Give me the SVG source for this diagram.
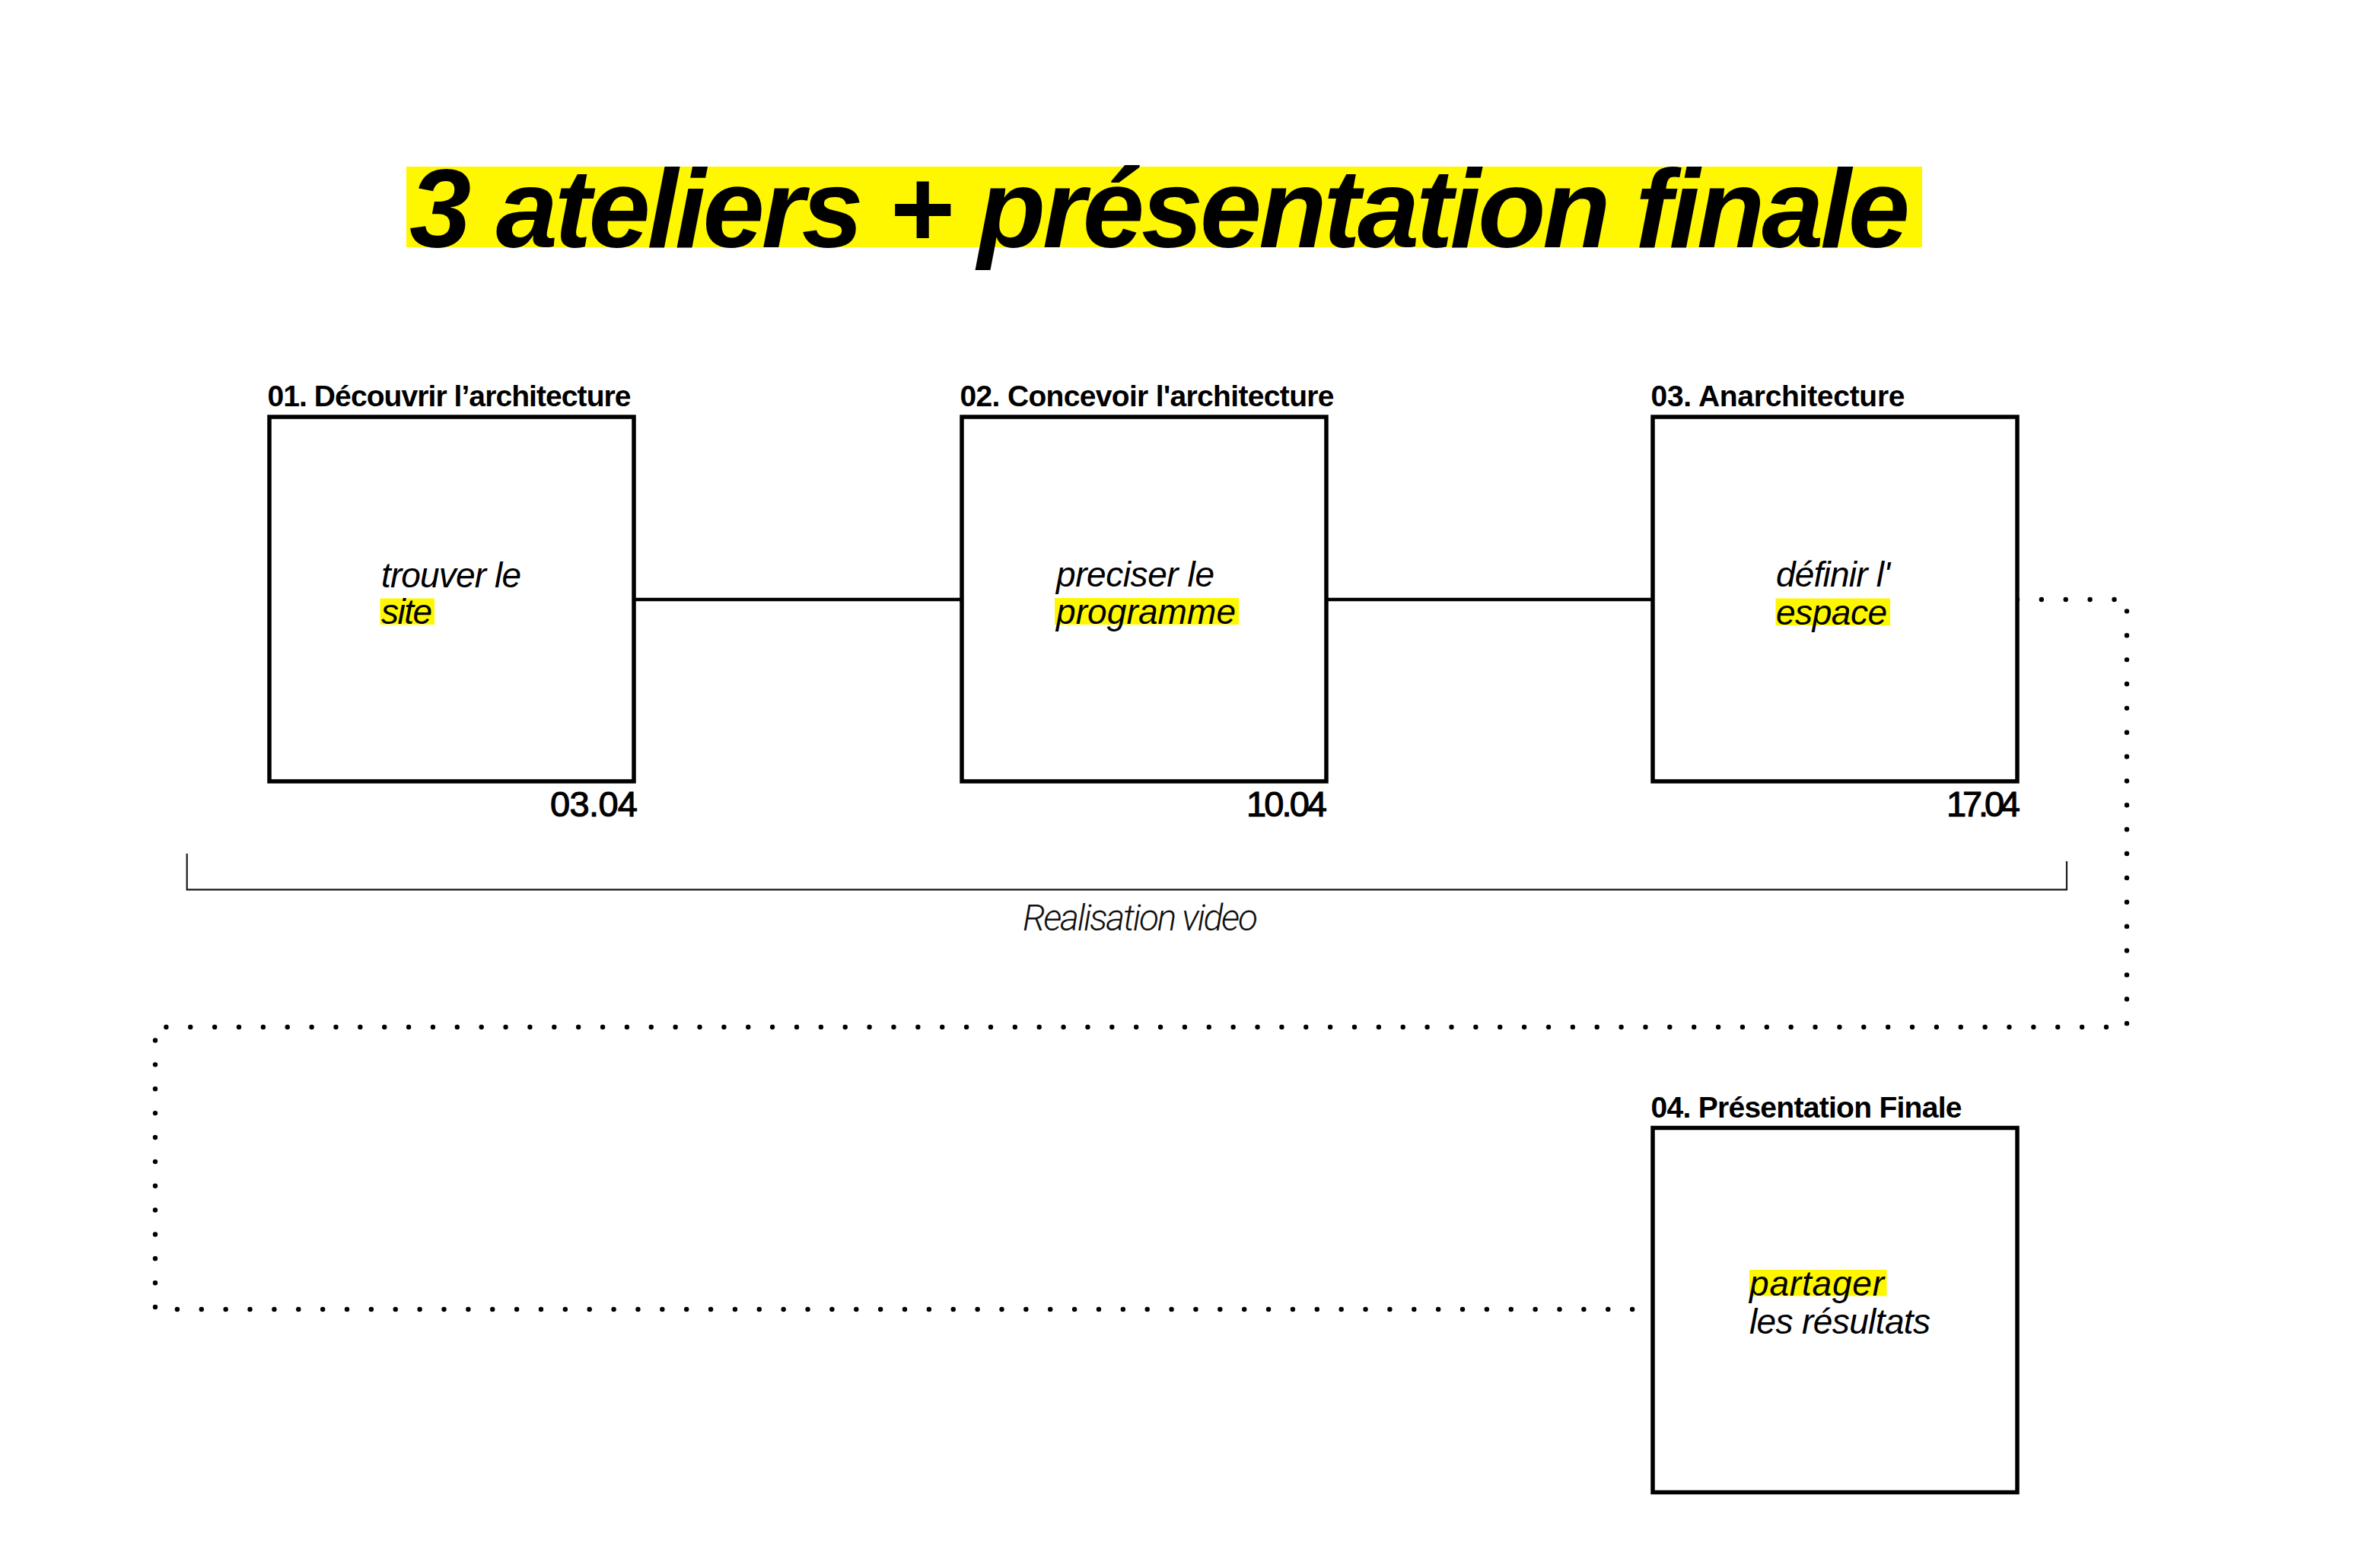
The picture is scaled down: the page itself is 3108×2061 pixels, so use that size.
<svg xmlns="http://www.w3.org/2000/svg" width="3108" height="2061" viewBox="0 0 3108 2061">
<style>
.bg{fill:#ffffff}
.hl{fill:#fff700}
.box{fill:#ffffff;stroke:#000;stroke-width:5.5}
.solid{fill:none;stroke:#000;stroke-width:4.5}
.dots{fill:none;stroke:#000;stroke-width:6.4;stroke-linecap:round;stroke-dasharray:0 31.87}
.bracket{fill:none;stroke:#1a1a1a;stroke-width:2.2}
.title{font-family:"Liberation Sans",Arial,sans-serif;font-weight:700;font-style:italic;font-size:146px;fill:#000}
.lbl{font-family:"Liberation Sans",Arial,sans-serif;font-weight:700;font-size:39px;fill:#000}
.date{font-family:"Liberation Sans",Arial,sans-serif;font-size:47px;fill:#000;stroke:#000;stroke-width:1.1}
.it{font-family:"Liberation Sans",Arial,sans-serif;font-style:italic;font-size:46px;fill:#000}
.cap{font-family:Roboto,"Liberation Sans",Arial,sans-serif;font-style:italic;font-weight:300;font-size:48px;fill:#111}
</style>
<rect class="bg" x="0" y="0" width="3108" height="2061"/>
<g id="title">
<rect class="hl" x="534" y="219" width="1992" height="106"/>
<text class="title" x="538" y="325" textLength="1972" lengthAdjust="spacing">3 ateliers + présentation finale</text>
</g>
<g id="connectors">
<path class="solid" d="M833,788 H1264"/>
<path class="solid" d="M1743,788 H2172"/>
<path class="dots" d="M2651,788 H2795 V1350 H204 V1721 H2172"/>
<path class="bracket" d="M245.7,1122 V1169.3 H2716 V1132"/>
</g>
<g id="node1">
<text class="lbl" x="351.5" y="534" textLength="478" lengthAdjust="spacing">01. Découvrir l’architecture</text>
<rect class="box" x="354" y="548" width="479" height="479"/>
<text class="it" x="501" y="772" textLength="184" lengthAdjust="spacing">trouver le</text>
<rect class="hl" x="499.5" y="786.5" width="71.5" height="34.5"/>
<text class="it" x="501" y="820" textLength="67" lengthAdjust="spacing">site</text>
<text class="date" x="723" y="1073" textLength="115" lengthAdjust="spacing">03.04</text>
</g>
<g id="node2">
<text class="lbl" x="1261.5" y="534" textLength="492" lengthAdjust="spacing">02. Concevoir l'architecture</text>
<rect class="box" x="1264" y="548" width="479" height="479"/>
<text class="it" x="1388" y="771" textLength="208" lengthAdjust="spacing">preciser le</text>
<rect class="hl" x="1386" y="786" width="242" height="35"/>
<text class="it" x="1388" y="820" textLength="236" lengthAdjust="spacing">programme</text>
<text class="date" x="1638" y="1073" textLength="106" lengthAdjust="spacing">10.04</text>
</g>
<g id="node3">
<text class="lbl" x="2169.5" y="534" textLength="334" lengthAdjust="spacing">03. Anarchitecture</text>
<rect class="box" x="2172" y="548" width="479" height="479"/>
<text class="it" x="2334" y="771" textLength="150" lengthAdjust="spacing">définir l'</text>
<rect class="hl" x="2333.5" y="786.5" width="150.5" height="35.5"/>
<text class="it" x="2334" y="821" textLength="146" lengthAdjust="spacing">espace</text>
<text class="date" x="2558" y="1073" textLength="97" lengthAdjust="spacing">17.04</text>
</g>
<g id="node4">
<text class="lbl" x="2169.5" y="1469" textLength="409" lengthAdjust="spacing">04. Présentation Finale</text>
<rect class="box" x="2172" y="1482.5" width="479" height="479"/>
<rect class="hl" x="2299" y="1669" width="180.5" height="34.5"/>
<text class="it" x="2299" y="1703" textLength="177" lengthAdjust="spacing">partager</text>
<text class="it" x="2299" y="1753" textLength="238" lengthAdjust="spacing">les résultats</text>
</g>
<g id="caption">
<text class="cap" x="1344" y="1223" textLength="309" lengthAdjust="spacing">Realisation video</text>
</g>
</svg>
